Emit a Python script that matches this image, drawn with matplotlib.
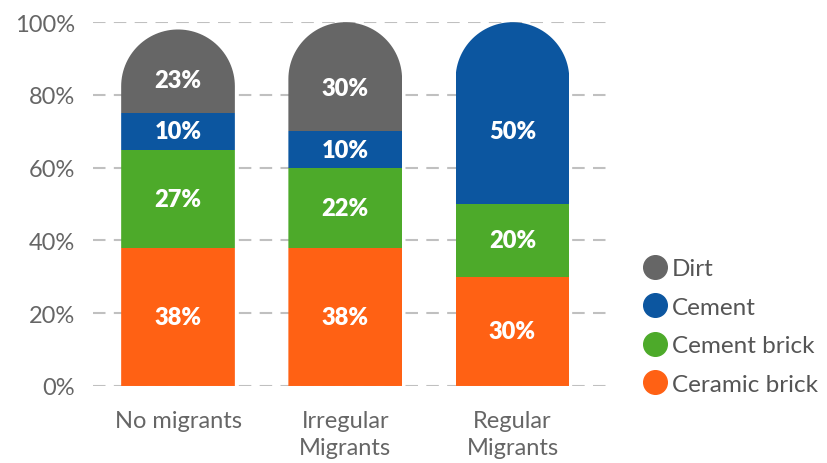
import numpy as np
import matplotlib.pyplot as plt
from matplotlib.path import Path
from matplotlib.patches import PathPatch
from matplotlib.lines import Line2D

plt.rcParams['font.family'] = ['Lato', 'DejaVu Sans']

groups = ['No migrants', 'Irregular\nMigrants', 'Regular\nMigrants']
materials = ['Ceramic brick', 'Cement brick', 'Cement', 'Dirt']
ceramic_brick = [38, 38, 30]
cement_brick = [27, 22, 20]
cement = [10, 10, 50]
dirt = [23, 30, 0]
colors = ['#FF6114', '#4DAA2A', '#0C56A0', '#666666']

series = [ceramic_brick, cement_brick, cement, dirt]

fig = plt.figure(figsize=(8.28, 4.64), dpi=100)
ax = fig.add_axes([0.112, 0.166, 0.622, 0.784])
ax.set_xlim(-0.51, 2.57)
ax.set_ylim(0, 100)

x = np.arange(len(groups))
w = 0.68

# rounded caps: semicircle radius in data units for x and y
pos = ax.get_position()
px_x = pos.width * 828 / (2.57 + 0.51)
px_y = pos.height * 464 / 100.0
rx = w / 2
ry = rx * px_x / px_y

totals = np.sum(series, axis=0)
clips = []
for i, xi in enumerate(x):
    top = totals[i]
    t = np.linspace(np.pi, 0, 60)
    arc = [(xi + rx * np.cos(a), top - ry + ry * np.sin(a)) for a in t]
    verts = [(xi - rx, 0)] + arc + [(xi + rx, 0), (xi - rx, 0)]
    codes = [Path.MOVETO] + [Path.LINETO] * (len(verts) - 2) + [Path.CLOSEPOLY]
    clip = PathPatch(Path(verts, codes), transform=ax.transData,
                     facecolor='none', edgecolor='none')
    ax.add_patch(clip)
    clips.append(clip)

bottom = np.zeros(len(groups))
for vals, col, name in zip(series, colors, materials):
    bars = ax.bar(x, vals, w, bottom=bottom, color=col, zorder=2)
    for i, b in enumerate(bars):
        b.set_clip_path(clips[i])
        if vals[i] > 0:
            # label of the capped segment sits a bit lower
            frac = 0.4 if bottom[i] + vals[i] == totals[i] else 0.5
            ax.text(x[i], bottom[i] + vals[i] * frac, '%d%%' % vals[i],
                    ha='center', va='center', color='white',
                    fontsize=17, fontweight='heavy', zorder=3)
    bottom += np.array(vals)

ax.set_yticks(np.arange(0, 101, 20))
ax.set_yticklabels(['%d%%' % v for v in range(0, 101, 20)])
ax.set_xticks(x)
ax.set_xticklabels(groups, linespacing=1.35)
ax.tick_params(length=0, labelsize=17, labelcolor='#666666')
ax.tick_params(axis='y', pad=13)
ax.tick_params(axis='x', pad=17)
ax.yaxis.grid(True, color='#C0C0C0', linestyle=(0, (6, 4)), linewidth=1.5, zorder=0)
ax.set_axisbelow(True)
for s in ax.spines.values():
    s.set_visible(False)

handles = [Line2D([], [], marker='o', linestyle='none', markersize=17,
                  markerfacecolor=c, markeredgecolor=c)
           for c in colors[::-1]]
fig.legend(handles, materials[::-1], loc='lower left',
           bbox_to_anchor=(0.7495, 0.10), frameon=False, fontsize=17.5,
           labelcolor='#555555', handletextpad=0.2, labelspacing=0.72,
           handlelength=1.0)

fig.savefig('out.png', dpi=100)
